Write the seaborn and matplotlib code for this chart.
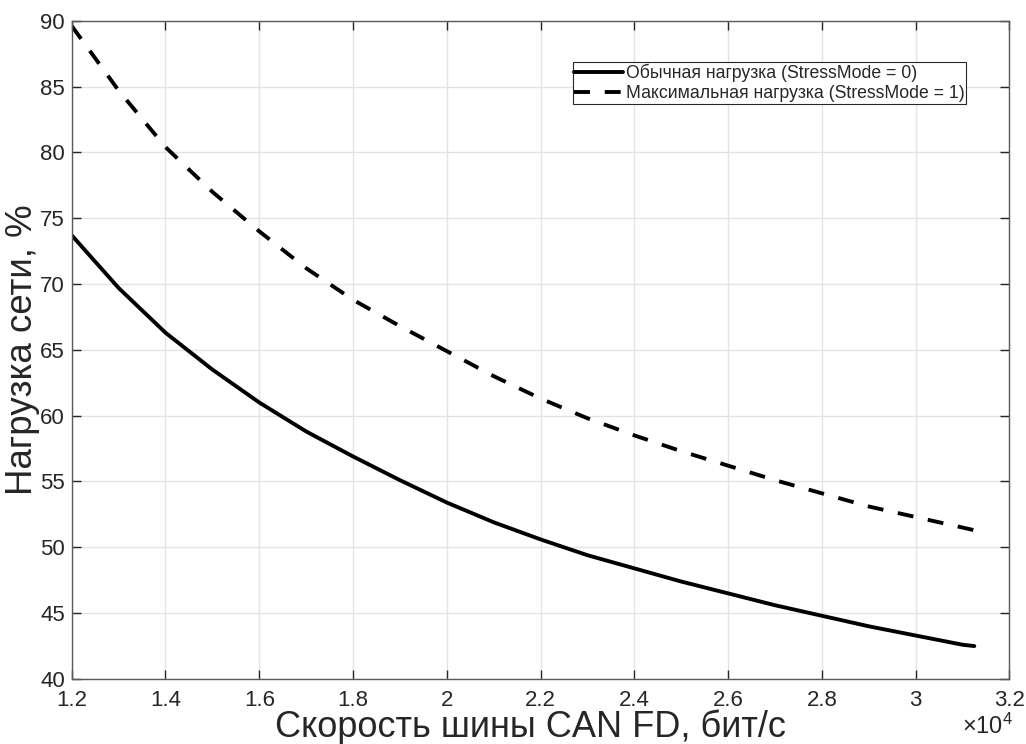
import numpy as np
import pandas as pd
import matplotlib
matplotlib.use("Agg")
import matplotlib.pyplot as plt
from matplotlib.ticker import FuncFormatter, MultipleLocator
import seaborn as sns

# CAN FD bus bit rate, bit/s
bitrate = [12000, 13000, 14000, 15000, 16000, 17000, 18000, 19000, 20000, 21000,
           22000, 23000, 24000, 25000, 26000, 27000, 28000, 29000, 30000, 31000, 31250]

# Bus load, %, normal traffic (StressMode = 0)
load_normal = [73.7, 69.7, 66.3, 63.5, 61.0, 58.8, 56.9, 55.1, 53.4, 51.9,
               50.6, 49.4, 48.4, 47.4, 46.5, 45.6, 44.8, 44.0, 43.3, 42.6, 42.5]

# Bus load, %, maximum traffic (StressMode = 1)
load_stress = [89.6, 84.7, 80.4, 77.0, 74.0, 71.2, 68.8, 66.8, 64.9, 63.0,
               61.3, 59.8, 58.5, 57.3, 56.2, 55.1, 54.1, 53.1, 52.3, 51.5, 51.3]

label_normal = "Обычная нагрузка (StressMode = 0)"
label_stress = "Максимальная нагрузка (StressMode = 1)"

df = pd.DataFrame({"bitrate": bitrate, "normal": load_normal, "stress": load_stress})

sns.set_theme(style="white")
plt.rcParams["font.family"] = ["Liberation Sans", "DejaVu Sans"]
plt.rcParams["mathtext.fontset"] = "custom"
plt.rcParams["mathtext.rm"] = "Liberation Sans"

fig = plt.figure(figsize=(10.26, 7.44), dpi=100)
ax = fig.add_axes([0.0699, 0.0874, 0.914, 0.8848])

lw = 2.8
sns.lineplot(data=df, x="bitrate", y="normal", ax=ax, color="black",
             linewidth=lw, label=label_normal)
sns.lineplot(data=df, x="bitrate", y="stress", ax=ax, color="black",
             linewidth=lw, label=label_stress)
ax.lines[1].set_dashes([4.1, 3.8])

ax.set_xlim(12000, 32000)
ax.set_ylim(40, 90)
ax.xaxis.set_major_locator(MultipleLocator(2000))
ax.yaxis.set_major_locator(MultipleLocator(5))
ax.xaxis.set_major_formatter(FuncFormatter(lambda v, p: f"{v / 1e4:g}"))

ax.grid(True, color="#e3e3e3", linewidth=1.0)
ax.set_axisbelow(True)

spine_color = "#5a5a5a"
for s in ax.spines.values():
    s.set_visible(True)
    s.set_color(spine_color)
    s.set_linewidth(1.0)

ax.tick_params(axis="both", which="major", direction="in", length=6.5, width=1.0,
               color="#262626", labelsize=16, labelcolor="#262626",
               top=True, right=True, bottom=True, left=True)
ax.tick_params(axis="x", pad=8)
ax.tick_params(axis="y", pad=5)

ax.set_xlabel("Скорость шины CAN FD, бит/с", fontsize=26, color="#262626")
ax.set_ylabel("Нагрузка сети, %", fontsize=26.5, color="#262626")
ax.xaxis.label.set_verticalalignment("baseline")
ax.xaxis.set_label_coords(0.489, -0.0885)
ax.yaxis.set_label_coords(-0.0335, 0.5)

ax.text(1.004, -0.052, r"$\times\mathregular{10^{4}}$", transform=ax.transAxes,
        ha="right", va="top", fontsize=17, color="#262626")

leg = ax.legend(loc="upper right", bbox_to_anchor=(0.954, 0.937), borderaxespad=0,
                fontsize=12.7, frameon=True, fancybox=False, framealpha=1,
                edgecolor="#262626", handlelength=2.75, handletextpad=0.2,
                labelspacing=0.2, borderpad=0.08)
leg.get_frame().set_linewidth(0.8)
for h in leg.get_lines():
    h.set_linewidth(lw)
leg.get_lines()[1].set_dashes([4.1, 3.8])

fig.savefig("out.png", dpi=100)
